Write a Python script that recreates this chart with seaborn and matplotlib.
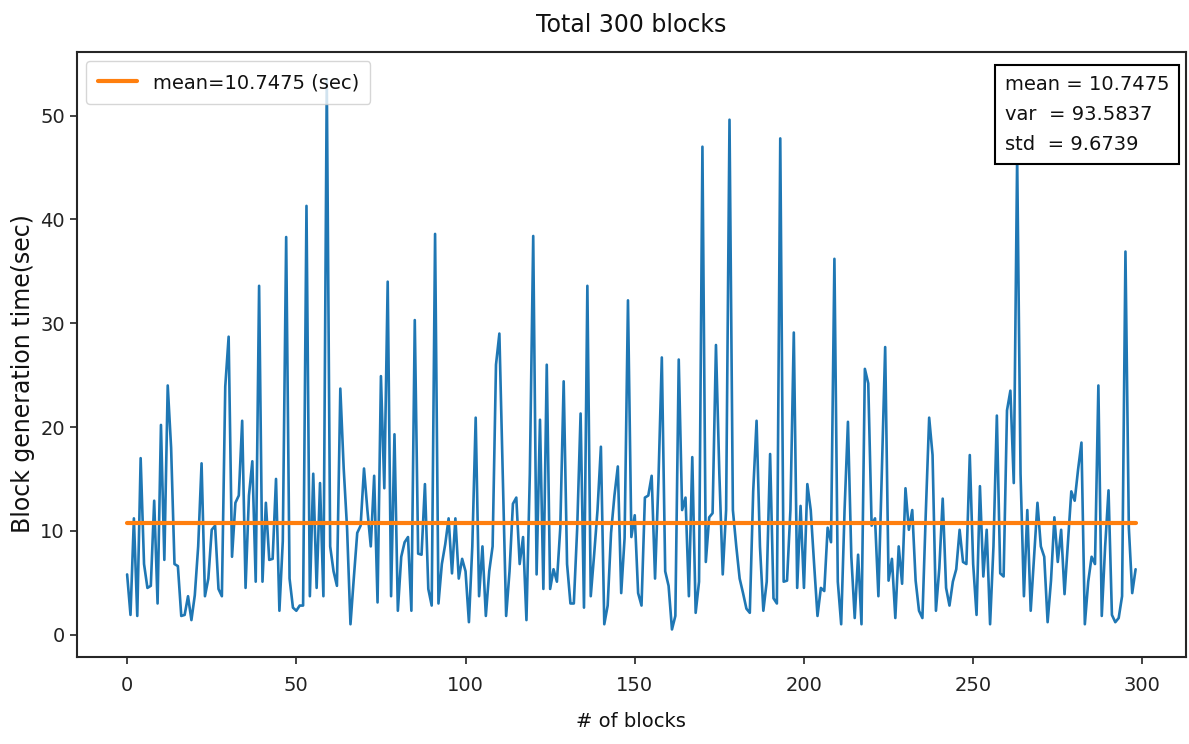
import numpy as np
import pandas as pd
import matplotlib
matplotlib.use('Agg')
import matplotlib.pyplot as plt
import seaborn as sns

# Block generation times (sec)
block_times = [
    5.8, 1.9, 11.2, 1.8, 17.0, 6.8, 4.5, 4.7, 12.9, 3.0,
    20.2, 7.2, 24.0, 18.0, 6.8, 6.6, 1.8, 1.9, 3.7, 1.4,
    3.8, 8.5, 16.5, 3.7, 5.4, 10.1, 10.5, 4.4, 3.7, 23.9,
    28.7, 7.5, 12.7, 13.4, 20.6, 4.5, 13.4, 16.7, 5.1, 33.6,
    5.1, 12.7, 7.2, 7.3, 15.0, 2.3, 9.0, 38.3, 5.4, 2.6,
    2.3, 2.8, 2.8, 41.3, 3.7, 15.5, 4.5, 14.6, 3.7, 53.5,
    8.5, 6.1, 4.7, 23.7, 16.0, 10.2, 1.0, 5.5, 9.8, 10.5,
    16.0, 12.0, 8.5, 15.3, 3.1, 24.9, 14.1, 34.0, 3.7, 19.3,
    2.3, 7.5, 8.9, 9.4, 2.3, 30.3, 7.8, 7.7, 14.5, 4.4,
    2.8, 38.6, 3.0, 6.8, 8.7, 11.2, 5.9, 11.2, 5.4, 7.3,
    6.1, 1.2, 8.5, 20.9, 3.7, 8.5, 1.8, 6.1, 8.5, 26.0,
    29.0, 15.5, 1.8, 6.1, 12.6, 13.2, 6.8, 9.4, 1.4, 15.5,
    38.4, 5.8, 20.7, 4.4, 26.0, 4.4, 6.3, 5.1, 10.3, 24.4,
    6.8, 3.0, 3.0, 10.3, 21.3, 2.6, 33.6, 3.7, 7.7, 12.0,
    18.1, 1.0, 2.8, 9.8, 13.4, 16.2, 4.0, 9.3, 32.2, 9.4,
    11.5, 4.0, 2.8, 13.2, 13.4, 15.3, 5.4, 14.8, 26.7, 6.1,
    4.7, 0.5, 1.8, 26.5, 12.0, 13.2, 3.7, 17.1, 2.1, 5.1,
    47.0, 7.0, 11.3, 11.7, 27.9, 15.5, 5.8, 12.0, 49.6, 12.0,
    8.5, 5.4, 4.0, 2.5, 2.1, 13.8, 20.6, 8.5, 2.3, 5.1,
    17.4, 3.5, 3.0, 47.8, 5.1, 5.2, 12.0, 29.1, 4.5, 12.4,
    4.5, 14.5, 12.0, 6.8, 1.8, 4.5, 4.2, 10.3, 8.9, 36.2,
    5.1, 1.0, 12.0, 20.5, 7.5, 1.6, 7.7, 1.0, 25.6, 24.2,
    10.5, 11.2, 3.7, 15.5, 27.7, 5.2, 7.3, 1.6, 8.5, 4.9,
    14.1, 10.1, 12.0, 5.2, 2.3, 1.6, 11.7, 20.9, 17.3, 2.3,
    6.4, 13.1, 4.5, 2.8, 5.1, 6.3, 10.1, 7.0, 6.8, 17.3,
    6.8, 1.9, 14.3, 5.6, 10.1, 1.0, 8.5, 21.1, 5.9, 5.6,
    21.6, 23.5, 14.6, 46.0, 15.5, 3.7, 12.0, 2.3, 7.5, 12.7,
    8.5, 7.5, 1.2, 5.2, 11.3, 7.0, 10.1, 3.9, 8.9, 13.8,
    12.9, 15.9, 18.5, 1.0, 5.1, 7.5, 6.8, 24.0, 1.8, 8.5,
    13.9, 1.9, 1.2, 1.6, 3.7, 36.9, 10.3, 4.0, 6.3,
]

# summary numbers as printed on the chart
mean_time = 10.7475
var_time = 93.5837
std_time = 9.6739
n_blocks_total = 300

df = pd.DataFrame({'block': np.arange(len(block_times)), 'time': block_times})
mean_df = pd.DataFrame({'block': [0, len(block_times) - 1], 'time': [mean_time, mean_time]})

sns.set_style('ticks')
plt.rcParams['font.family'] = ['DejaVu Sans']
plt.rcParams['axes.edgecolor'] = '#262626'
plt.rcParams['axes.linewidth'] = 1.5
plt.rcParams['text.color'] = '#111111'
plt.rcParams['axes.labelcolor'] = '#111111'
plt.rcParams['xtick.color'] = '#222222'
plt.rcParams['ytick.color'] = '#222222'

fig, ax = plt.subplots(figsize=(11.89, 7.44), dpi=100)
fig.subplots_adjust(left=0.0645, right=0.9975, bottom=0.117, top=0.9305)

sns.lineplot(data=df, x='block', y='time', color='#1f77b4', linewidth=1.9, ax=ax)
sns.lineplot(data=mean_df, x='block', y='time', color='#ff7f0e', linewidth=3,
             label='mean=%.4f (sec)' % mean_time, ax=ax)

ax.set_title('Total %d blocks' % n_blocks_total, fontsize=17, pad=14)
ax.set_xlabel('# of blocks', fontsize=14, labelpad=12)
ax.set_ylabel('Block generation time(sec)', fontsize=17)
ax.yaxis.set_label_coords(-0.038, 0.468)
ax.tick_params(labelsize=14, length=5, width=1.2)
ax.tick_params(axis='x', pad=9)
ax.set_xticks([0, 50, 100, 150, 200, 250, 300])
ax.set_yticks([0, 10, 20, 30, 40, 50])

ax.legend(loc='upper left', fontsize=14, framealpha=0.8, borderpad=0.6)

# stats box drawn above the line so the tall peak passes behind it
stats_text = 'mean = %.4f\nvar  = %.4f\nstd  = %.4f' % (mean_time, var_time, std_time)
ax.text(0.985, 0.962, stats_text, transform=ax.transAxes, ha='right', va='top',
        multialignment='left', fontsize=14, linespacing=1.75, zorder=5,
        bbox=dict(boxstyle='square,pad=0.5', facecolor='white', edgecolor='black', linewidth=1.5))

plt.savefig('out.png', dpi=100)
